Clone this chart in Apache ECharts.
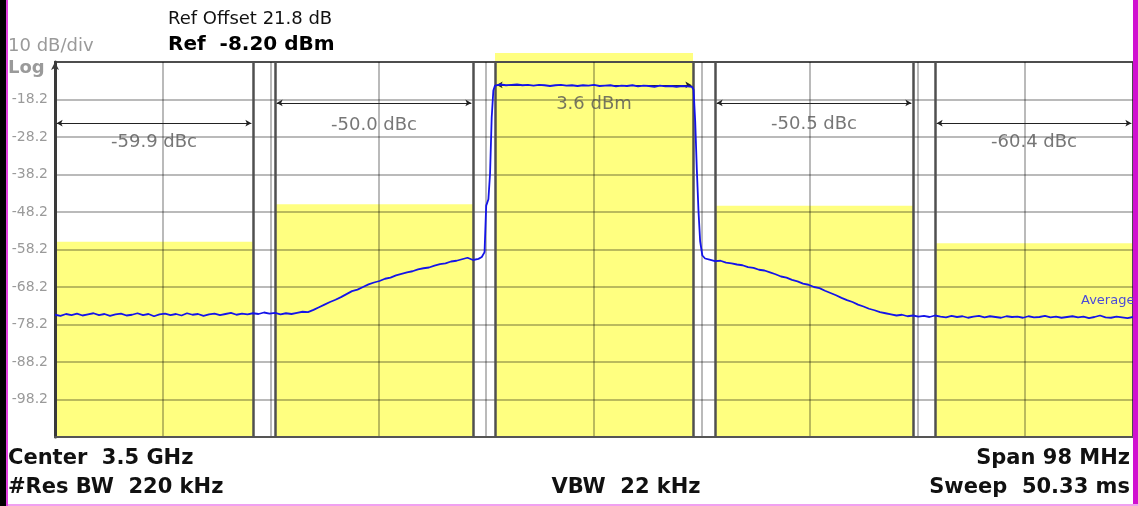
<!DOCTYPE html>
<html><head><meta charset="utf-8">
<script src="https://cdn.jsdelivr.net/npm/echarts@6/dist/echarts.min.js"></script>
<style>html,body{margin:0;padding:0;background:#fff}#c{width:1138px;height:506px}</style>
</head><body><div id="c"></div>
<script>
// ---- data ----
const refLevel = -8.2;          // dBm, top of screen
const bottomLevel = -108.2;     // dBm, bottom of screen
const spanLo = -49, spanHi = 49; // MHz offset from 3.5 GHz
const yTickLabels = ['', '-98.2', '-88.2', '-78.2', '-68.2', '-58.2', '-48.2', '-38.2', '-28.2', '-18.2', ''];
const channelLo = [-49, -29, -9, 11, 31];
const channelHi = [-31, -11, 9, 29, 49];
const channelCenters = [-40, -20, 0, 20, 40];
const limitLevels = [-56.1, -46.1, -5.8, -46.5, -56.5];
const powerLabels = ['-59.9 dBc', '-50.0 dBc', '3.6 dBm', '-50.5 dBc', '-60.4 dBc'];
const bwLineLevels = [-24.5, -19.1, -14.3, -19.1, -24.5];
const labelLevels = [-29.6, -25.0, -19.6, -24.8, -29.6];
const edgeFreqs = [-31, -29, -11, -9, 9, 11, 29, 31];
const trace = [
 [-49,-75.6],[-48.5,-75.9],[-48,-75.4],[-47.5,-75.7],[-47,-75.3],[-46.5,-75.8],[-46,-75.5],[-45.5,-75.2],
 [-45,-75.7],[-44.5,-75.4],[-44,-75.9],[-43.5,-75.5],[-43,-75.3],[-42.5,-75.8],[-42,-75.6],[-41.5,-75.2],
 [-41,-75.7],[-40.5,-75.4],[-40,-76.0],[-39.5,-75.5],[-39,-75.3],[-38.5,-75.7],[-38,-75.4],[-37.5,-75.8],
 [-37,-75.2],[-36.5,-75.6],[-36,-75.4],[-35.5,-75.9],[-35,-75.5],[-34.5,-75.3],[-34,-75.7],[-33.5,-75.4],
 [-33,-75.1],[-32.5,-75.6],[-32,-75.3],[-31.5,-75.5],[-31,-75.2],[-30.5,-75.4],[-30,-75.0],[-29.5,-75.3],
 [-29,-75.1],[-28.5,-75.5],[-28,-75.2],[-27.5,-75.4],[-27,-75.1],[-26.5,-74.8],[-26,-74.9],[-25.5,-74.3],
 [-25,-73.6],[-24.5,-72.9],[-24,-72.2],[-23.5,-71.6],[-23,-70.9],[-22.5,-70.1],[-22,-69.3],[-21.5,-68.9],
 [-21,-68.2],[-20.5,-67.5],[-20,-67.0],[-19.5,-66.6],[-19,-66.0],[-18.5,-65.7],[-18,-65.1],[-17.5,-64.7],
 [-17,-64.3],[-16.5,-64.0],[-16,-63.5],[-15.5,-63.2],[-15,-63.0],[-14.5,-62.5],[-14,-62.1],[-13.5,-61.9],
 [-13,-61.4],[-12.5,-61.2],[-12,-60.8],[-11.5,-60.4],[-11,-61.0],[-10.5,-60.7],[-10.2,-60.2],[-9.95,-58.9],
 [-9.8,-46.5],[-9.6,-44.8],[-9.45,-38],[-9.3,-23],[-9.15,-15.8],[-9.0,-14.5],
 [-8.5,-14.2],[-8,-14.4],[-7.5,-14.3],[-7,-14.2],[-6.5,-14.4],[-6,-14.3],[-5.5,-14.5],[-5,-14.3],
 [-4.5,-14.4],[-4,-14.6],[-3.5,-14.4],[-3,-14.3],[-2.5,-14.5],[-2,-14.4],[-1.5,-14.6],[-1,-14.4],
 [-0.5,-14.5],[0,-14.3],[0.5,-14.6],[1,-14.5],[1.5,-14.4],[2,-14.7],[2.5,-14.5],[3,-14.6],
 [3.5,-14.4],[4,-14.7],[4.5,-14.5],[5,-14.6],[5.5,-14.8],[6,-14.5],[6.5,-14.7],[7,-14.6],
 [7.5,-14.8],[8,-14.6],[8.5,-14.7],[8.9,-14.8],[9.05,-15.6],[9.2,-24],[9.35,-37],[9.5,-48],
 [9.65,-56],[9.85,-59.8],[10.1,-60.6],[10.5,-60.9],[11,-61.3],[11.5,-61.2],[12,-61.7],[12.5,-61.9],
 [13,-62.2],[13.5,-62.4],[14,-62.9],[14.5,-63.1],[15,-63.6],[15.5,-63.8],[16,-64.3],[16.5,-64.8],
 [17,-65.4],[17.5,-65.7],[18,-66.3],[18.5,-66.7],[19,-67.3],[19.5,-67.6],[20,-68.2],[20.5,-68.5],
 [21,-69.2],[21.5,-69.8],[22,-70.4],[22.5,-71.1],[23,-71.7],[23.5,-72.2],[24,-72.9],[24.5,-73.4],
 [25,-74.0],[25.5,-74.4],[26,-74.9],[26.5,-75.2],[27,-75.5],[27.5,-75.8],[28,-75.6],[28.5,-76.0],
 [29,-75.8],[29.5,-76.1],[30,-75.9],[30.5,-76.2],[31,-75.8],[31.5,-76.1],[32,-76.3],[32.5,-75.9],
 [33,-76.2],[33.5,-76.0],[34,-76.4],[34.5,-76.1],[35,-75.9],[35.5,-76.3],[36,-76.0],[36.5,-76.2],
 [37,-76.4],[37.5,-76.0],[38,-76.2],[38.5,-76.1],[39,-76.4],[39.5,-76.0],[40,-76.3],[40.5,-76.2],
 [41,-75.9],[41.5,-76.3],[42,-76.1],[42.5,-76.4],[43,-76.2],[43.5,-76.0],[44,-76.3],[44.5,-76.1],
 [45,-76.5],[45.5,-76.2],[46,-75.8],[46.5,-76.3],[47,-76.4],[47.5,-76.1],[48,-76.3],[48.5,-76.5],[49,-76.2]
];
// ---- chart ----
const FONT = 'DejaVu Sans';
const chart = echarts.init(document.getElementById('c'), null, {renderer: 'canvas'});
const limitData = channelLo.map((lo, i) => [lo, channelHi[i], limitLevels[i]]);
const labelData = channelCenters.map((c, i) => [c, labelLevels[i], powerLabels[i]]);
const edgeLines = edgeFreqs.map(f => [{coord: [f, bottomLevel]}, {coord: [f, refLevel]}]);
const bwLines = channelLo.map((lo, i) => [{coord: [lo + 0.15, bwLineLevels[i]]}, {coord: [channelHi[i] - 0.15, bwLineLevels[i]]}]);

function txt(text, x, y, font, fill, align) {
  return {type: 'text', z: 100, style: {text, x, y, font, fill, textAlign: align || 'left', textVerticalAlign: 'middle'}};
}

chart.setOption({
  animation: false,
  backgroundColor: '#ffffff',
  grid: {left: 55, right: 5, top: 62, bottom: 69, containLabel: false, show: true,
         backgroundColor: 'transparent', borderColor: '#6a6a6a', borderWidth: 2},
  xAxis: [
    {type: 'value', min: 0, max: 10, interval: 1, axisLabel: {show: false}, axisTick: {show: false},
     axisLine: {show: true, lineStyle: {color: '#555', width: 2}},
     splitLine: {show: true, lineStyle: {color: 'rgba(0,0,0,0.36)', width: 1.5}}},
    {type: 'value', min: spanLo, max: spanHi, show: false}
  ],
  yAxis: [
    {type: 'value', min: 0, max: 100, interval: 10, position: 'left',
     axisLine: {show: true, symbol: ['none', 'arrow'], symbolSize: [6, 8], lineStyle: {color: '#3a3a3a', width: 3}},
     axisTick: {show: false},
     axisLabel: {margin: 7, color: '#9a9a9a', fontSize: 14, fontFamily: FONT, formatter: v => yTickLabels[Math.round(v / 10)]},
     splitLine: {show: true, lineStyle: {color: 'rgba(0,0,0,0.36)', width: 1.5}}},
    {type: 'value', min: bottomLevel, max: refLevel, show: false}
  ],
  series: [
    {type: 'custom', name: 'limits', xAxisIndex: 1, yAxisIndex: 1, z: -1, silent: true,
     encode: {x: [0, 1], y: 2},
     data: limitData,
     renderItem: (params, api) => {
       const p1 = api.coord([api.value(0), api.value(2)]);
       const p2 = api.coord([api.value(1), bottomLevel]);
       return {type: 'rect', shape: {x: p1[0], y: p1[1], width: p2[0] - p1[0], height: p2[1] - p1[1]}, style: {fill: '#ffff80'}};
     }},
    {type: 'line', name: 'edges', xAxisIndex: 1, yAxisIndex: 1, data: [], silent: true,
     markLine: {silent: true, symbol: ['none', 'none'], label: {show: false},
       lineStyle: {color: '#505050', width: 2.5, type: 'solid'}, data: edgeLines}},
    {type: 'line', name: 'bw', xAxisIndex: 1, yAxisIndex: 1, data: [], silent: true,
     markLine: {silent: true, symbol: ['arrow', 'arrow'], symbolSize: [5, 6], label: {show: false},
       lineStyle: {color: '#222', width: 1.2, type: 'solid'}, data: bwLines}},
    {type: 'line', name: 'Average', xAxisIndex: 1, yAxisIndex: 1, data: trace, showSymbol: false, symbol: 'none',
     lineStyle: {color: '#1414e8', width: 1.8}, z: 5},
    {type: 'scatter', name: 'labels', xAxisIndex: 1, yAxisIndex: 1, data: labelData, symbolSize: 0, silent: true,
     label: {show: true, position: 'inside', formatter: p => p.data[2], color: '#555', fontSize: 18, fontFamily: FONT}}
  ],
  graphic: [
    txt('Ref Offset 21.8 dB', 168, 19, '18px "DejaVu Sans"', '#111'),
    txt('Ref  -8.20 dBm', 168, 45, 'bold 20px "DejaVu Sans"', '#000'),
    txt('10 dB/div', 8, 46, '18px "DejaVu Sans"', '#9a9a9a'),
    txt('Log', 8, 68, 'bold 18px "DejaVu Sans"', '#9a9a9a'),
    txt('Center  3.5 GHz', 8, 459, 'bold 21px "DejaVu Sans"', '#111'),
    txt('#Res BW  220 kHz', 8, 488, 'bold 21px "DejaVu Sans"', '#111'),
    txt('VBW  22 kHz', 626, 488, 'bold 21px "DejaVu Sans"', '#111', 'center'),
    txt('Span 98 MHz', 1130, 459, 'bold 21px "DejaVu Sans"', '#111', 'right'),
    txt('Sweep  50.33 ms', 1130, 488, 'bold 21px "DejaVu Sans"', '#111', 'right'),
    txt('Average', 1081, 301, '13px "DejaVu Sans"', '#4a4ad8'),
    {type: 'rect', z: 110, shape: {x: 0, y: 0, width: 6, height: 506}, style: {fill: '#000'}},
    {type: 'rect', z: 110, shape: {x: 6, y: 0, width: 2, height: 506}, style: {fill: '#e040e0'}},
    {type: 'rect', z: 110, shape: {x: 1133, y: 0, width: 5, height: 506}, style: {fill: '#d010d0'}},
    {type: 'rect', z: 110, shape: {x: 8, y: 504, width: 1130, height: 2}, style: {fill: '#f0a0f0'}}
  ]
});
</script></body></html>
